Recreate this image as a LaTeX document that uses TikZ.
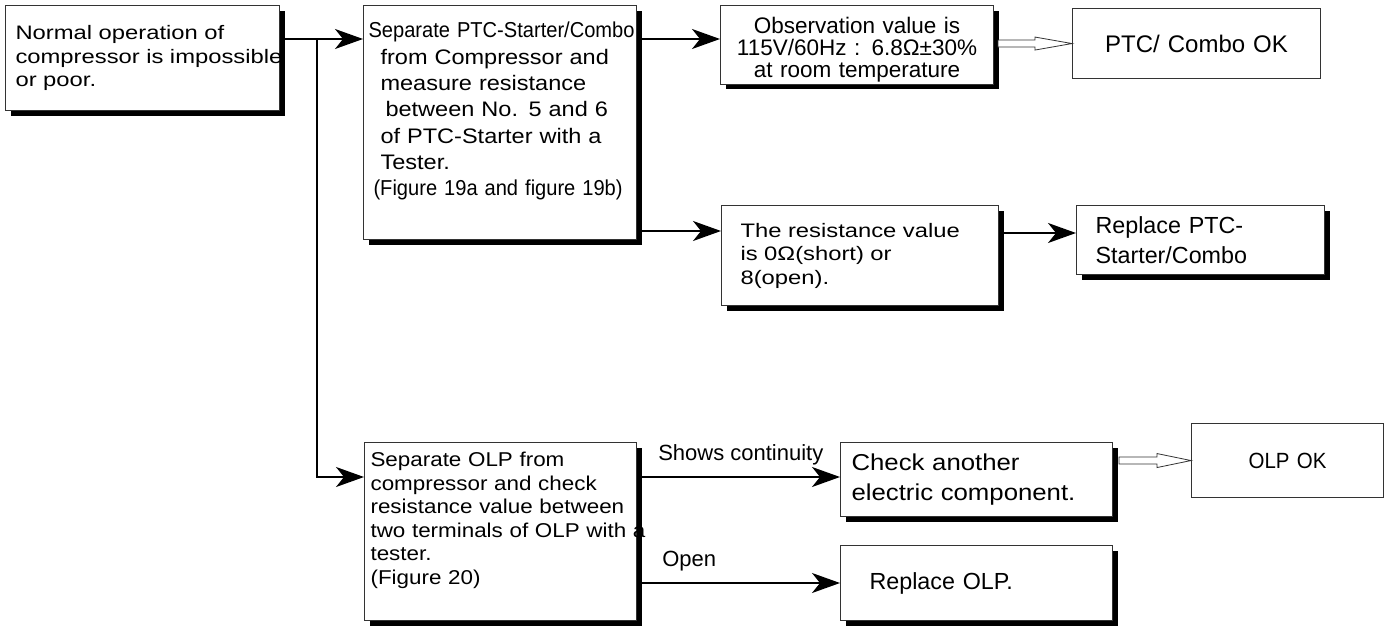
\documentclass[tikz,border=0pt]{standalone}
\usepackage{fontspec}
\setmainfont{Liberation Sans}
\newfontfamily\sanswide[FakeStretch=1.22]{Liberation Sans}
\newfontfamily\sansmid[FakeStretch=1.12]{Liberation Sans}
\newfontfamily\sansplain{Liberation Sans}
\newfontfamily\sansnarrow[FakeStretch=0.93]{Liberation Sans}
\usetikzlibrary{arrows.meta,shadows}

% fonts of the boxes
\newcommand\fontA{\sanswide\fontsize{19.5}{23.5}\selectfont}
\newcommand\fontB{\sansmid\fontsize{21}{26.3}\selectfont}
\newcommand\fontBn{\sansnarrow\fontsize{21.6}{26.3}\selectfont}
\newcommand\fontC{\sansplain\fontsize{22.5}{22}\selectfont}
\newcommand\fontD{\sansmid\fontsize{20}{23.5}\selectfont}
\newcommand\fontF{\sansplain\fontsize{24}{28}\selectfont}
\newcommand\fontG{\sansplain\fontsize{23.3}{30}\selectfont}
\newcommand\fontH{\sansmid\fontsize{23}{30}\selectfont}
\newcommand\fontJ{\sansnarrow\fontsize{22}{26}\selectfont}

\begin{document}
\begin{tikzpicture}[x=1pt,y=-1pt,
  chk/.style={draw=black!80, line width=1.1pt, fill=white, anchor=north west, align=left, inner ysep=2pt},
  shadowed/.style={chk, drop shadow={shadow xshift=5pt, shadow yshift=-5pt, fill=black, opacity=1}},
  flow/.style={line width=1.8pt, -{Stealth[length=28pt,width=20pt,inset=8pt]}},
  hollow/.style={draw=black!80, line width=0.8pt, fill=white},
  lbl/.style={font=\sansplain\fontsize{22}{26}\selectfont, inner sep=2pt, anchor=south west, yshift=9pt}]
\fill[white] (0,0) rectangle (1394,626);
\useasboundingbox (0,0) rectangle (1394,626);

% boxes
\node[shadowed, font=\fontA, minimum width=274pt, minimum height=105pt, inner xsep=10pt, text width=254pt] (start) at (5,5)
  {Normal operation of\\ \mbox{compressor is impossible}\\ or poor.};
\node[shadowed, font=\fontB, minimum width=273pt, minimum height=234pt, inner xsep=5pt, text width=263pt] (ptc) at (363,5)
  {{\fontBn\mbox{Separate PTC-Starter/Combo}}\\
   \hspace*{12pt}from Compressor and\\
   \hspace*{12pt}measure resistance\\
   \hspace*{17pt}between No. 5 and 6\\
   \hspace*{12pt}of PTC-Starter with a\\
   \hspace*{12pt}Tester.\\
   {\fontBn\hspace*{5pt}(Figure 19a and figure 19b)}\rule[-27pt]{0pt}{0pt}};
\node[shadowed, font=\fontC, align=center, minimum width=273pt, minimum height=78pt, inner xsep=4pt, text width=265pt] (obs) at (720,5)
  {\rule{0pt}{26pt}Observation value is\\ 115V/60Hz : 6.8Ω±30\%\\ at room temperature};
\node[chk, font=\fontF, align=center, minimum width=248pt, minimum height=70pt, inner xsep=4pt, text width=240pt] (okptc) at (1072,8)
  {PTC/ Combo OK};
\node[shadowed, font=\fontA, minimum width=277pt, minimum height=100pt, inner xsep=19pt, text width=239pt] (short) at (721,205)
  {The resistance value\\ is 0Ω(short) or\\ 8(open).};
\node[shadowed, font=\fontG, minimum width=248pt, minimum height=69pt, inner xsep=19pt, text width=210pt] (repptc) at (1076,205)
  {Replace PTC-\\ Starter/Combo};
\node[shadowed, font=\fontD, minimum width=272pt, minimum height=178pt, inner xsep=6pt, text width=260pt] (olp) at (364,442)
  {Separate OLP from\\ compressor and check\\ \mbox{resistance value between}\\ \mbox{two terminals of OLP with a}\\ tester.\\ (Figure 20)\rule[-27pt]{0pt}{0pt}};
\node[shadowed, font=\fontH, minimum width=272pt, minimum height=74pt, inner xsep=11pt, text width=250pt] (other) at (840,442)
  {Check another\\ electric component.};
\node[shadowed, font=\fontG, minimum width=272pt, minimum height=75pt, inner xsep=29pt, text width=214pt] (repolp) at (840,545)
  {Replace OLP.};
\node[chk, font=\fontJ, align=center, minimum width=192pt, minimum height=74pt, inner xsep=4pt, text width=184pt] (olpok) at (1191,423)
  {OLP OK};

% connectors
\coordinate (split) at (317,39);
\draw[flow] ([yshift=-34pt]start.north east) -- ([yshift=-34pt]ptc.north west);
\draw[flow] (split) |- ([yshift=-35pt]olp.north west);
\draw[flow] ([yshift=-34pt]ptc.north east) -- ([yshift=-34pt]obs.north west);
\path ([yshift=-26pt]short.north west) coordinate (intoshort);
\draw[flow] (ptc.east |- intoshort) -- (intoshort);
\draw[flow] ([yshift=-28pt]short.north east) -- ([yshift=-28pt]repptc.north west);
\draw[flow] ([yshift=-35pt]olp.north east) -- node[lbl, pos=0.09] (contlbl) {Shows continuity} ([yshift=-35pt]other.north west);
\path ([yshift=-38pt]repolp.north west) coordinate (intorep);
\draw[flow] (olp.east |- intorep) -- node[lbl, pos=0.11] (openlbl) {Open} (intorep);

% hollow arrows
\draw[hollow] (okptc.west) -- ++(-37,-6.5) -- ++(0,3) -- ++(-37,0) -- ++(0,7) -- ++(37,0) -- ++(0,3) -- cycle;
\draw[hollow] (olpok.west) -- ++(-34,-7) -- ++(0,3.5) -- ++(-38,0) -- ++(0,7) -- ++(38,0) -- ++(0,3.5) -- cycle;
\end{tikzpicture}
\end{document}
